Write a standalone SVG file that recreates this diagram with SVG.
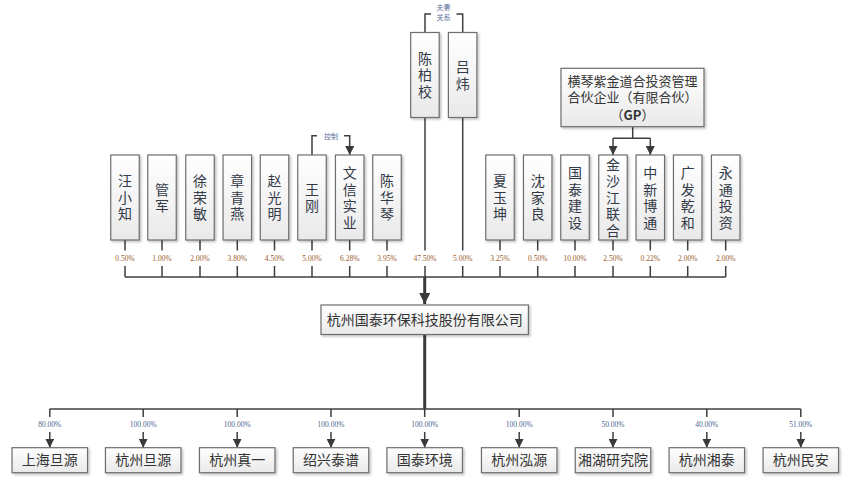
<svg xmlns="http://www.w3.org/2000/svg" width="848" height="482" viewBox="0 0 848 482">
<defs>
<linearGradient id="g" x1="0" y1="0" x2="0" y2="1">
<stop offset="0" stop-color="#ffffff"/>
<stop offset="1" stop-color="#e9e9e9"/>
</linearGradient>
<filter id="sh" x="-20%" y="-20%" width="150%" height="150%">
<feDropShadow dx="1.5" dy="1.5" stdDeviation="0.8" flood-color="#000" flood-opacity="0.25"/>
</filter>
<marker id="arr" viewBox="0 0 10 10" refX="10" refY="5" markerWidth="9" markerHeight="9" markerUnits="userSpaceOnUse" orient="auto">
<path d="M0,0 L10,5 L0,10 z" fill="#3a3a3a"/>
</marker>
<marker id="arrB" viewBox="0 0 10 10" refX="10" refY="5" markerWidth="11" markerHeight="11" markerUnits="userSpaceOnUse" orient="auto">
<path d="M0,0 L10,5 L0,10 z" fill="#3a3a3a"/>
</marker>
</defs>
<style>
.box{fill:url(#g);stroke:#6e6e6e;stroke-width:1.2;filter:url(#sh)}
.vt{font-family:"Noto Sans CJK SC","Noto Sans CJK JP",sans-serif;font-size:14px;fill:#333a48;text-anchor:middle;writing-mode:vertical-rl;letter-spacing:2.5px;dominant-baseline:central}
.ht{font-family:"Noto Sans CJK SC","Noto Sans CJK JP",sans-serif;font-size:14px;fill:#333;text-anchor:middle}
.gp{font-family:"Noto Sans CJK SC","Noto Sans CJK JP",sans-serif;font-size:13px;fill:#333;text-anchor:middle}
.ln{stroke:#3f3f3f;stroke-width:1.5;fill:none}
.thk{stroke:#3a3a3a;stroke-width:3;fill:none}
.pt{font-family:"Liberation Serif",serif;font-size:7.5px;fill:#9a5a2a;text-anchor:middle}
.pb{font-family:"Liberation Serif",serif;font-size:7.5px;fill:#4a6490;text-anchor:middle}
.lb{font-family:"Noto Sans CJK SC",sans-serif;font-size:7px;fill:#5a6a98;text-anchor:middle}
</style>

<g id="connectors">
<path class="ln" d="M425,32.5 V14 H431"/>
<path class="ln" d="M456.5,14 H462.7 V32.5"/>
<text class="lb" x="443.5" y="10">夫妻<tspan x="443.5" y="20">关系</tspan></text>
<path class="ln" d="M312,155 V135.7 H317"/>
<path class="ln" d="M344,135.7 H349.7 V155" marker-end="url(#arr)"/>
<text class="lb" x="331" y="138.5">控制</text>
<path class="ln" d="M632.7,126.7 V138.3"/>
<path class="ln" d="M613,138.3 H650.3"/>
<path class="ln" d="M613,138.3 V155" marker-end="url(#arr)"/>
<path class="ln" d="M650.3,138.3 V155" marker-end="url(#arr)"/>
<path class="ln" d="M125,240 V250.5 M125,266 V277 M162,240 V250.5 M162,266 V277 M200,240 V250.5 M200,266 V277 M237.3,240 V250.5 M237.3,266 V277 M274.5,240 V250.5 M274.5,266 V277 M312,240 V250.5 M312,266 V277 M349.7,240 V250.5 M349.7,266 V277 M387,240 V250.5 M387,266 V277 M425,117.5 V250.5 M425,266 V277 M462.7,117.5 V250.5 M462.7,266 V277 M500,240 V250.5 M500,266 V277 M537.7,240 V250.5 M537.7,266 V277 M575,240 V250.5 M575,266 V277 M613,240 V250.5 M613,266 V277 M650.3,240 V250.5 M650.3,266 V277 M687.7,240 V250.5 M687.7,266 V277 M725.7,240 V250.5 M725.7,266 V277"/>
<path class="ln" stroke-width="1.7" d="M125,277 H725.7"/>
<path class="thk" d="M424.7,277 V304" marker-end="url(#arrB)"/>
<path class="thk" d="M424.7,334.5 V409"/>
<path class="ln" stroke-width="1.8" d="M49.8,409 H800.8"/>
<path class="ln" d="M49.8,409 V417 M143.2,409 V417 M237.2,409 V417 M331,409 V417 M424.7,409 V417 M519.2,409 V417 M613,409 V417 M706.8,409 V417 M800.8,409 V417"/>
<path class="ln" d="M49.8,432 V447.7" marker-end="url(#arr)"/>
<path class="ln" d="M143.2,432 V447.7" marker-end="url(#arr)"/>
<path class="ln" d="M237.2,432 V447.7" marker-end="url(#arr)"/>
<path class="ln" d="M331,432 V447.7" marker-end="url(#arr)"/>
<path class="ln" d="M424.7,432 V447.7" marker-end="url(#arr)"/>
<path class="ln" d="M519.2,432 V447.7" marker-end="url(#arr)"/>
<path class="ln" d="M613,432 V447.7" marker-end="url(#arr)"/>
<path class="ln" d="M706.8,432 V447.7" marker-end="url(#arr)"/>
<path class="ln" d="M800.8,432 V447.7" marker-end="url(#arr)"/>
<text class="pt" x="125" y="261">0.50%</text>
<text class="pt" x="162" y="261">1.00%</text>
<text class="pt" x="200" y="261">2.00%</text>
<text class="pt" x="237.3" y="261">3.80%</text>
<text class="pt" x="274.5" y="261">4.50%</text>
<text class="pt" x="312" y="261">5.00%</text>
<text class="pt" x="349.7" y="261">6.28%</text>
<text class="pt" x="387" y="261">3.95%</text>
<text class="pt" x="425" y="261">47.50%</text>
<text class="pt" x="462.7" y="261">5.00%</text>
<text class="pt" x="500" y="261">3.25%</text>
<text class="pt" x="537.7" y="261">0.50%</text>
<text class="pt" x="575" y="261">10.00%</text>
<text class="pt" x="613" y="261">2.50%</text>
<text class="pt" x="650.3" y="261">0.22%</text>
<text class="pt" x="687.7" y="261">2.00%</text>
<text class="pt" x="725.7" y="261">2.00%</text>
<text class="pb" x="49.8" y="426.5">80.00%</text>
<text class="pb" x="143.2" y="426.5">100.00%</text>
<text class="pb" x="237.2" y="426.5">100.00%</text>
<text class="pb" x="331" y="426.5">100.00%</text>
<text class="pb" x="424.7" y="426.5">100.00%</text>
<text class="pb" x="519.2" y="426.5">100.00%</text>
<text class="pb" x="613" y="426.5">50.00%</text>
<text class="pb" x="706.8" y="426.5">40.00%</text>
<text class="pb" x="800.8" y="426.5">51.00%</text>
</g>

<g id="n-chenbaixiao"><rect class="box" x="410.7" y="32.5" width="28.5" height="85"/><text class="vt" x="425" y="76.25">陈柏校</text></g>
<g id="n-lvwei"><rect class="box" x="448.4" y="32.5" width="28.5" height="85"/><text class="vt" x="462.7" y="76.25">吕炜</text></g>

<g id="n-gp"><rect class="box" x="561" y="68.3" width="143" height="58.4"/>
<text class="gp" x="632.5" y="85.5">横琴紫金道合投资管理<tspan x="632.5" y="102">合伙企业（有限合伙）</tspan><tspan x="632.5" y="119.5">（<tspan font-weight="bold">GP</tspan>）</tspan></text></g>

<g id="n-wangxiaozhi"><rect class="box" x="110.75" y="155" width="28.5" height="85"/><text class="vt" x="125" y="198.75">汪小知</text></g>
<g id="n-guanjun"><rect class="box" x="147.75" y="155" width="28.5" height="85"/><text class="vt" x="162" y="198.75">管军</text></g>
<g id="n-xurongmin"><rect class="box" x="185.75" y="155" width="28.5" height="85"/><text class="vt" x="200" y="198.75">徐荣敏</text></g>
<g id="n-zhangqingyan"><rect class="box" x="223.05" y="155" width="28.5" height="85"/><text class="vt" x="237.3" y="198.75">章青燕</text></g>
<g id="n-zhaoguangming"><rect class="box" x="260.25" y="155" width="28.5" height="85"/><text class="vt" x="274.5" y="198.75">赵光明</text></g>
<g id="n-wanggang"><rect class="box" x="297.75" y="155" width="28.5" height="85"/><text class="vt" x="312" y="198.75">王刚</text></g>
<g id="n-wenxin"><rect class="box" x="335.45" y="155" width="28.5" height="85"/><text class="vt" x="349.7" y="198.75">文信实业</text></g>
<g id="n-chenhuaqin"><rect class="box" x="372.75" y="155" width="28.5" height="85"/><text class="vt" x="387" y="198.75">陈华琴</text></g>
<g id="n-xiayukun"><rect class="box" x="485.75" y="155" width="28.5" height="85"/><text class="vt" x="500" y="198.75">夏玉坤</text></g>
<g id="n-shenjialiang"><rect class="box" x="523.45" y="155" width="28.5" height="85"/><text class="vt" x="537.7" y="198.75">沈家良</text></g>
<g id="n-guotaijianshe"><rect class="box" x="560.75" y="155" width="28.5" height="85"/><text class="vt" x="575" y="198.75">国泰建设</text></g>
<g id="n-jinshajiang"><rect class="box" x="598.75" y="155" width="28.5" height="85"/><text class="vt" x="613" y="198.75">金沙江联合</text></g>
<g id="n-zhongxinbotong"><rect class="box" x="636.05" y="155" width="28.5" height="85"/><text class="vt" x="650.3" y="198.75">中新博通</text></g>
<g id="n-guangfaqianhe"><rect class="box" x="673.45" y="155" width="28.5" height="85"/><text class="vt" x="687.7" y="198.75">广发乾和</text></g>
<g id="n-yongtong"><rect class="box" x="711.45" y="155" width="28.5" height="85"/><text class="vt" x="725.7" y="198.75">永通投资</text></g>

<g id="n-company"><rect class="box" x="321" y="305" width="207.4" height="29.5"/><text class="ht" x="424.7" y="324.8">杭州国泰环保科技股份有限公司</text></g>

<g id="n-shanghaidanyuan"><rect class="box" x="12.05" y="447.7" width="75.5" height="25"/><text class="ht" x="49.8" y="465">上海旦源</text></g>
<g id="n-hangzhoudanyuan"><rect class="box" x="105.45" y="447.7" width="75.5" height="25"/><text class="ht" x="143.2" y="465">杭州旦源</text></g>
<g id="n-hangzhouzhenyi"><rect class="box" x="199.45" y="447.7" width="75.5" height="25"/><text class="ht" x="237.2" y="465">杭州真一</text></g>
<g id="n-shaoxingtaipu"><rect class="box" x="293.25" y="447.7" width="75.5" height="25"/><text class="ht" x="331" y="465">绍兴泰谱</text></g>
<g id="n-guotaihuanjing"><rect class="box" x="386.95" y="447.7" width="75.5" height="25"/><text class="ht" x="424.7" y="465">国泰环境</text></g>
<g id="n-hangzhouhongyuan"><rect class="box" x="481.45" y="447.7" width="75.5" height="25"/><text class="ht" x="519.2" y="465">杭州泓源</text></g>
<g id="n-xianghu"><rect class="box" x="575.25" y="447.7" width="75.5" height="25"/><text class="ht" x="613" y="465">湘湖研究院</text></g>
<g id="n-hangzhouxiangtai"><rect class="box" x="669.05" y="447.7" width="75.5" height="25"/><text class="ht" x="706.8" y="465">杭州湘泰</text></g>
<g id="n-hangzhouminan"><rect class="box" x="763.05" y="447.7" width="75.5" height="25"/><text class="ht" x="800.8" y="465">杭州民安</text></g>
</svg>
